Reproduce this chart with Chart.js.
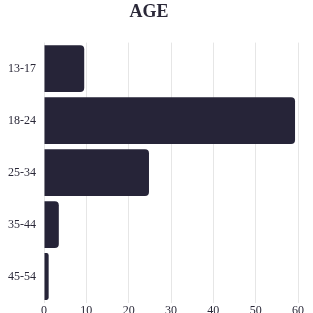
<!DOCTYPE html>
<html>
<head>
<meta charset="utf-8">
<script src="https://cdn.jsdelivr.net/npm/chart.js@4"></script>
<style>
  html, body { margin: 0; padding: 0; background: #fff; }
  #wrap { width: 313px; height: 313px; position: relative; }
</style>
</head>
<body>
<div id="wrap"><canvas id="ageChart"></canvas></div>
<script>
const AGE_GROUPS = ['13-17', '18-24', '25-34', '35-44', '45-54'];
const AGE_VALUES = [9.5, 59.3, 24.8, 3.5, 1.1];
const X_TICKS = [0, 10, 20, 30, 40, 50, 60];

const BAR_COLOR = '#262438';
const TEXT_COLOR = '#2a2838';
const FONT = '"Liberation Serif", "DejaVu Serif", serif';

new Chart(document.getElementById('ageChart'), {
  type: 'bar',
  data: {
    labels: AGE_GROUPS,
    datasets: [{
      label: 'Age',
      data: AGE_VALUES,
      backgroundColor: BAR_COLOR,
      borderRadius: 4,
      borderSkipped: 'start',
      barPercentage: 0.9,
      categoryPercentage: 1
    }]
  },
  options: {
    indexAxis: 'y',
    responsive: true,
    maintainAspectRatio: false,
    animation: false,
    layout: { padding: { left: 0, right: 15, top: 0, bottom: 0 } },
    scales: {
      x: {
        min: 0,
        max: 60,
        afterBuildTicks: (axis) => {
          axis.ticks = X_TICKS.map((v) => ({ value: v }));
        },
        // keep the axis strip thin so labels sit near the bottom edge
        afterFit: (axis) => { axis.height = 10.5; },
        grid: { color: '#e6e6e6', drawTicks: false },
        border: { display: false },
        ticks: { color: TEXT_COLOR, font: { family: FONT, size: 12 }, padding: 1 }
      },
      y: {
        afterFit: (axis) => {
          axis.width = 44;
          axis.paddingTop = 0;
          axis.paddingBottom = 0;
        },
        grid: { display: false, drawTicks: false },
        border: { display: false },
        ticks: { color: TEXT_COLOR, font: { family: FONT, size: 12 }, padding: 8 }
      }
    },
    plugins: {
      legend: { display: false },
      tooltip: { enabled: false },
      title: {
        display: true,
        text: 'AGE',
        color: TEXT_COLOR,
        font: { family: FONT, size: 18, weight: 'bold' },
        padding: { top: 2, bottom: 19 }
      }
    }
  }
});
</script>
</body>
</html>
